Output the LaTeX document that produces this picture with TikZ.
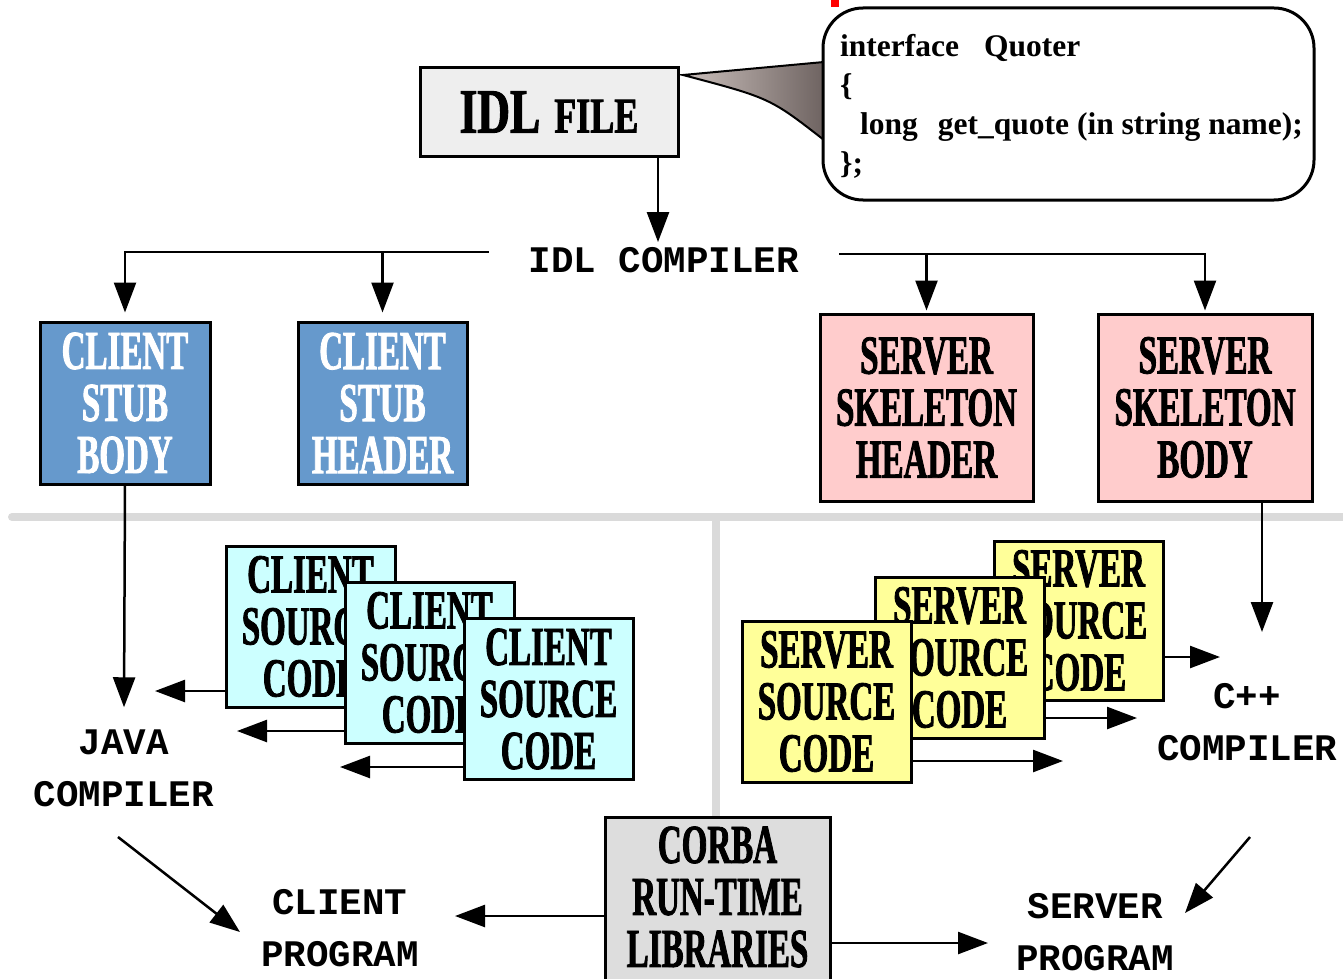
\documentclass[tikz,border=0pt]{standalone}
\usepackage{fontspec}
\setmainfont{Liberation Serif}
\newfontfamily\condf{Liberation Serif}[UprightFont=* Bold, FakeStretch=0.6, FakeBold=1.5]
\newfontfamily\idlf{Liberation Serif}[UprightFont=* Bold, FakeStretch=0.72, FakeBold=1.5]
\newfontfamily\monof{Liberation Mono}
\usetikzlibrary{arrows.meta}
\definecolor{stubblue}{HTML}{6699CC}
\definecolor{skelpink}{HTML}{FFCCCC}
\definecolor{srccyan}{HTML}{CCFFFF}
\definecolor{srcyellow}{HTML}{FFFF99}
\definecolor{corbagray}{HTML}{DDDDDD}
\definecolor{idlgray}{HTML}{EEEEEE}
\definecolor{sepgray}{HTML}{DADADA}
\definecolor{tiplight}{HTML}{CBC0BC}
\definecolor{tipdark}{HTML}{6E6361}
\tikzset{
  box/.style={draw=black, line width=3pt, inner sep=0pt, align=center,
    font=\condf\fontsize{55}{52}\selectfont},
  boxtext/.style={inner sep=0pt, align=center, font=\condf\fontsize{55}{52}\selectfont},
  stub/.style={box, fill=stubblue, text=white, minimum width=170pt, minimum height=162pt},
  skel/.style={box, fill=skelpink, minimum width=213pt, minimum height=187pt},
  csrc/.style={box, fill=srccyan, minimum width=169pt, minimum height=161pt},
  ssrc/.style={box, fill=srcyellow, minimum width=169pt, minimum height=161pt},
  lbl/.style={inner sep=0pt, align=center, font=\monof\bfseries\fontsize{37.5}{52}\selectfont},
  conn/.style={line width=2.5pt, -{Triangle[length=30pt,width=22pt]}},
  sep/.style={draw=sepgray, line width=8pt, line cap=round}
}
\begin{document}
\begin{tikzpicture}[x=1pt,y=-1pt]
\useasboundingbox (0,0) rectangle (1343,979);
\fill[white] (0,0) rectangle (1343,979);
% red mark
\fill[red] (831,0) rectangle (839,7);
% separators
\draw[sep] (12,517) -- (1350,517);
\draw[sep] (716,517) -- (716,830);
% IDL file box
\node[draw=black, line width=3pt, fill=idlgray, minimum width=258pt, minimum height=88pt, inner sep=0pt]
  (idl) at (549,112) {{\idlf\fontsize{63}{63}\selectfont IDL}\hspace{14pt}{\idlf\fontsize{50}{50}\selectfont FILE}};
% callout pointer
\coordinate (tip) at (683,75);
\shade[left color=tiplight, right color=tipdark]
  (tip) -- (824,62) -- (824,140) .. controls (770,98) .. (tip) -- cycle;
\draw[line width=2pt] (824,62) -- (tip) .. controls (770,98) .. (824,140);
% callout box
\node[draw=black, line width=3pt, fill=white, rounded corners=40pt, minimum width=491pt, minimum height=192pt]
  (callout) at (1068.5,104) {};
\node[anchor=west, align=left, inner sep=0pt, font=\bfseries\fontsize{31.5}{39}\selectfont]
  (code) at (840,106) {interface\hspace{25pt}Quoter\\\{\\\hspace*{20pt}long\hspace{20pt}get\_quote (in string name);\\\};};
% IDL compiler
\node[lbl, inner xsep=40pt] (cmp) at (664,260) {IDL COMPILER};
\draw[conn] (idl.south -| 658,0) -- ([xshift=-6pt,yshift=5pt]cmp.north);
% stubs and skeletons
\node[stub] (csb) at (125,403) {CLIENT\\STUB\\BODY};
\node[stub, minimum width=169pt] (csh) at (382.5,403) {CLIENT\\STUB\\HEADER};
\node[skel] (ssh) at (926.5,407.5) {SERVER\\SKELETON\\HEADER};
\node[skel, minimum width=214pt] (ssb) at (1205,407.5) {SERVER\\SKELETON\\BODY};
\draw[conn] ([yshift=8pt]cmp.west) -| ([yshift=8pt]csb.north);
\draw[conn] ([yshift=8pt]cmp.west -| csh.north) -- ([yshift=8pt]csh.north);
\draw[conn] ([yshift=6pt]cmp.east) -| ([yshift=2pt]ssb.north);
\draw[conn] ([yshift=6pt]cmp.east -| ssh.north) -- ([yshift=2pt]ssh.north);
% java compiler
\node[lbl] (jc) at (124,768) {JAVA\\COMPILER};
\draw[conn] (csb.south) -- ([yshift=22pt]jc.north);
% client source boxes
\node[csrc] (cs1) at (310.5,626.5) {CLIENT\\SOURCE\\CODE};
\node[csrc] (cs2) at (429.5,662.5) {CLIENT\\SOURCE\\CODE};
\node[csrc] (cs3) at (548.5,699) {CLIENT\\SOURCE\\CODE};
\coordinate (j1) at (155,691);
\coordinate (j2) at (237,731);
\coordinate (j3) at (340,767);
\draw[conn] (cs1.west |- j1) -- (j1);
\draw[conn] (cs2.west |- j2) -- (j2);
\draw[conn] (cs3.west |- j3) -- (j3);
% server source boxes
\node[ssrc, minimum height=159pt] (ss3) at (1078.5,620.5) {SERVER\\SOURCE\\CODE};
\node[ssrc] (ss2) at (959.5,657.5) {SERVER\\SOURCE\\CODE};
\node[ssrc] (ss1) at (826.5,701.5) {SERVER\\SOURCE\\CODE};
\coordinate (c1) at (1220,657);
\coordinate (c2) at (1137,718);
\coordinate (c3) at (1063,761);
\draw[conn] (ss3.east |- c1) -- (c1);
\draw[conn] (ss2.east |- c2) -- (c2);
\draw[conn] (ss1.east |- c3) -- (c3);
% C++ compiler
\node[lbl] (cpp) at (1247,722) {C++\\COMPILER};
\coordinate (cp) at (1262,632);
\draw[conn] (ssb.south -| cp) -- (cp);
% CORBA
\node[box, fill=corbagray, minimum width=225pt, minimum height=165pt] (corba) at (717.5,900) {};
\node[boxtext] (corbat) at (717.5,897) {CORBA\\RUN-TIME\\LIBRARIES};
\node[lbl] (cprog) at (340,928) {CLIENT\\PROGRAM};
\node[lbl] (sprog) at (1095,932) {SERVER\\PROGRAM};
\coordinate (cl) at (455,916);
\coordinate (sv) at (988,943);
\draw[conn] (corba.west |- cl) -- (cl);
\draw[conn] (corba.east |- sv) -- (sv);
\coordinate (d1) at (118,837);
\coordinate (d2) at (240,932);
\coordinate (d3) at (1250,837);
\coordinate (d4) at (1185,913);
\draw[conn] (d1) -- (d2);
\draw[conn] (d3) -- (d4);
\end{tikzpicture}
\end{document}
